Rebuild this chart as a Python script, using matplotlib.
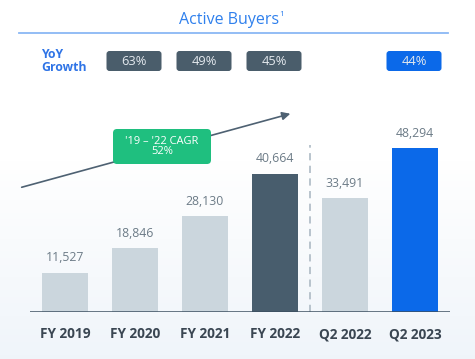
import numpy as np
import matplotlib.pyplot as plt
from matplotlib.patches import FancyBboxPatch

plt.rcParams['font.family'] = ['Open Sans', 'DejaVu Sans']

# data
categorias = ['FY 2019', 'FY 2020', 'FY 2021', 'FY 2022', 'Q2 2022', 'Q2 2023']
compradores = [11527, 18846, 28130, 40664, 33491, 48294]
colores = ['#cbd6dd', '#cbd6dd', '#cbd6dd', '#485d6d', '#cbd6dd', '#0b69e9']
yoy_pos = [1, 2, 3, 5]
yoy_valores = ['63%', '49%', '45%', '44%']
yoy_colores = ['#4a5d6b', '#4a5d6b', '#4a5d6b', '#0b69e9']

W, H = 475, 359
fig = plt.figure(figsize=(W / 100, H / 100), dpi=100)

# capa de fondo / decoracion en pixeles
deco = fig.add_axes([0, 0, 1, 1], zorder=0)
deco.set_xlim(0, W)
deco.set_ylim(H, 0)
deco.axis('off')
grad = np.linspace(0, 1, 256).reshape(-1, 1)
grad = np.clip((grad - 0.45) / 0.55, 0, 1)
c0 = np.array([1.0, 1.0, 1.0])
c1 = np.array([0.94, 0.96, 0.98])
img = c0 + grad[..., None] * (c1 - c0)
deco.imshow(img, extent=[0, W, H, 0], aspect='auto', zorder=0)

deco.text(229, 20, 'Active Buyers', ha='center', va='center',
          fontsize=11.5, color='#2f80ed')
deco.text(279, 15, '1', ha='left', va='center', fontsize=6, color='#2f80ed')
deco.plot([19, 448], [33, 33], color='#8ab8f5', lw=1.3)
deco.text(41, 61, 'YoY\nGrowth', ha='left', va='center', fontsize=8.8,
          fontweight='bold', color='#2f74e6', linespacing=1.0)

# cajas de crecimiento, alineadas con las barras
for p, v, c in zip(yoy_pos, yoy_valores, yoy_colores):
    cx = 30 + (p + 0.5) * 70 - 1
    box = FancyBboxPatch((cx - 27.5, 51), 55, 20,
                         boxstyle='round,pad=0,rounding_size=3',
                         fc=c, ec='none', zorder=2)
    deco.add_patch(box)
    deco.text(cx, 61.5, v, ha='center', va='center', fontsize=9.3,
              color='#e4e9ee', zorder=3)

# flecha CAGR
deco.annotate('', xy=(293, 113), xytext=(19, 188),
              arrowprops=dict(arrowstyle='-|>', color='#4e6172', lw=1.2,
                              mutation_scale=12), zorder=2)
box = FancyBboxPatch((113, 129), 98, 35,
                     boxstyle='round,pad=0,rounding_size=4',
                     fc='#1fbf7f', ec='none', zorder=3)
deco.add_patch(box)
deco.text(162, 146.5, "'19 \u2013 '22 CAGR\n52%", ha='center', va='center',
          fontsize=8, color='white', linespacing=1.0, zorder=4)

# barras
escala = 0.003396  # px por unidad
ax = fig.add_axes([30 / W, (H - 312) / H, 420 / W, 279 / H], zorder=1)
ax.patch.set_alpha(0)
x = np.arange(len(categorias))
ax.bar(x, compradores, width=0.66, color=colores, zorder=2)
ax.set_xlim(-0.5, 5.5)
ax.set_ylim(0, 279 / escala)
for i, v in enumerate(compradores):
    ax.text(i, v + 2500, f'{v:,}', ha='center', va='bottom', fontsize=8.8,
            color='#6c7b87')
ax.axhline(0, color='#3c4f60', lw=1.8, zorder=3)
ax.vlines(3.5, 0, 167 / escala, colors='#b3bfc9', linestyles=(0, (4, 3)), lw=1.3)
ax.set_xticks(x)
ax.set_xticklabels(categorias, fontsize=9.8, fontweight='bold', color='#3a4652')
ax.tick_params(axis='x', length=0, pad=11)
ax.set_yticks([])
for s in ax.spines.values():
    s.set_visible(False)

fig.savefig('out.png', dpi=100)
